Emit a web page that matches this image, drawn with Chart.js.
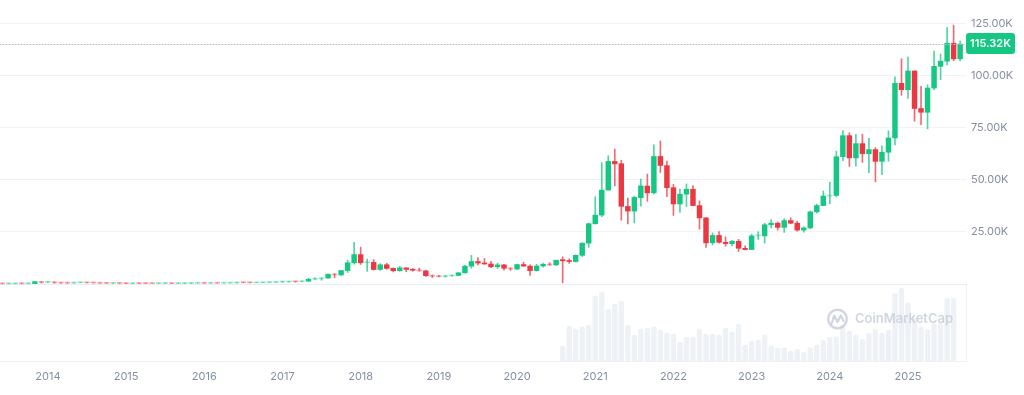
<!DOCTYPE html>
<html>
<head>
<meta charset="utf-8">
<script src="https://cdn.jsdelivr.net/npm/chart.js@4.4.1/dist/chart.umd.min.js"></script>
<style>
  html, body { margin: 0; padding: 0; background: #fff; }
</style>
</head>
<body>
<canvas id="chart" width="1024" height="395"></canvas>
<script>
// BTC monthly candles, Jun 2013 .. Sep 2025 (USD), one row per year
const open = [
  129, 97, 106, 135, 133, 204, 1129,
  754, 938, 573, 458, 448, 630, 640, 586, 478, 387, 338, 378,
  320, 217, 254, 244, 236, 230, 263, 285, 230, 236, 314, 377,
  430, 368, 437, 416, 448, 531, 673, 624, 573, 609, 698, 742,
  963, 970, 1190, 1071, 1348, 2286, 2480, 2875, 4703, 4338, 6468, 10233,
  14112, 10237, 10385, 7003, 9251, 7500, 6411, 7769, 7044, 6619, 6318, 4025,
  3746, 3460, 3853, 4105, 5350, 8573, 10797, 10078, 9630, 8299, 9193, 7571,
  7194, 9346, 8600, 6437, 8672, 9463, 9145, 11700, 11250, 10790, 13780, 19630,
  28990, 33110, 45160, 58930, 57830, 37290, 35035, 41460, 47100, 43820, 61320, 56910,
  46310, 38480, 43190, 45540, 37710, 31790, 19820, 23340, 20050, 19420, 20500, 17170,
  16550, 23140, 23150, 28480, 29270, 27220, 30480, 29230, 25930, 26970, 34670, 37720,
  42280, 42580, 61170, 71330, 60610, 67490, 62670, 64620, 58970, 63340, 70220, 96460,
  93430, 102410, 84370, 82550, 94210, 104640, 107140, 115760, 108240
];
const high = [
  130, 111, 135, 139, 210, 1156, 1156,
  1017, 1000, 700, 548, 630, 680, 650, 600, 490, 412, 458, 380,
  320, 280, 300, 256, 247, 265, 315, 285, 250, 330, 495, 466,
  432, 442, 440, 467, 542, 778, 705, 627, 614, 718, 755, 974,
  1191, 1200, 1280, 1349, 2763, 2999, 2916, 4736, 4975, 6470, 11517, 20089,
  17712, 11958, 11710, 9745, 9964, 7754, 8424, 7769, 7388, 7680, 6553, 4309,
  4109, 4210, 4296, 5642, 9008, 13796, 12681, 12273, 10898, 10021, 9505, 7743,
  9553, 10500, 9167, 9440, 10067, 10199, 11434, 13100, 12050, 14030, 19860, 29300,
  41950, 58330, 61680, 64860, 59520, 41330, 42230, 50480, 52850, 66930, 68790, 59040,
  47880, 45660, 48090, 47300, 39900, 31950, 24570, 25210, 22670, 20990, 21450, 18320,
  23960, 25130, 29160, 30950, 29820, 31390, 31810, 30180, 27480, 35150, 38420, 44700,
  48970, 63910, 73750, 72710, 71950, 71980, 69990, 65590, 66480, 73620, 99650, 108270,
  109110, 102500, 95040, 95760, 111970, 110600, 123230, 124460, 116800
];
const low = [
  88, 65, 102, 109, 100, 200, 455,
  739, 420, 440, 340, 420, 560, 570, 450, 375, 289, 320, 310,
  171, 212, 240, 218, 225, 220, 255, 199, 225, 236, 305, 354,
  355, 366, 400, 415, 438, 513, 606, 480, 596, 605, 684, 742,
  752, 920, 903, 1070, 1345, 2180, 1830, 2651, 2980, 4182, 5519, 9542,
  9402, 6048, 6685, 6526, 7090, 5826, 6111, 5880, 6121, 6170, 3652, 3156,
  3401, 3400, 3734, 4096, 5332, 7564, 9163, 9421, 7830, 7446, 6617, 6540,
  6915, 8470, 4106, 6202, 8117, 8976, 8977, 600, 9900, 10540, 13200, 17600,
  28720, 32380, 45120, 47160, 30680, 28890, 29360, 37390, 39790, 43320, 53570, 42000,
  32950, 34460, 37260, 37580, 26350, 17620, 18780, 19600, 18150, 18320, 15600, 16330,
  16520, 21440, 19630, 26970, 25880, 24800, 28930, 25410, 24900, 26560, 34120, 37630,
  38560, 41880, 59320, 56550, 56640, 58440, 53550, 49120, 52600, 58950, 66850, 90740,
  89260, 78260, 76630, 74590, 93380, 98240, 105290, 107350, 107300
];
const close = [
  97, 106, 135, 133, 204, 1129, 754,
  938, 573, 458, 448, 630, 640, 586, 478, 387, 338, 378, 320,
  217, 254, 244, 236, 230, 263, 285, 230, 236, 314, 377, 430,
  368, 437, 416, 448, 531, 673, 624, 573, 609, 698, 742, 963,
  970, 1190, 1071, 1348, 2286, 2480, 2875, 4703, 4338, 6468, 10233, 14156,
  10221, 10326, 6973, 9240, 7495, 6404, 7780, 7037, 6625, 6318, 4017, 3742,
  3457, 3854, 4105, 5351, 8574, 10817, 10085, 9630, 8293, 9199, 7569, 7194,
  9350, 8599, 6438, 8658, 9461, 9137, 11450, 11150, 10800, 13780, 19625, 29000,
  33110, 45140, 58920, 57750, 37330, 35040, 41630, 47170, 43790, 61320, 57000, 46310,
  38480, 43190, 45540, 37710, 31790, 19780, 23340, 20050, 19430, 20500, 17170, 16550,
  23140, 23150, 28480, 29270, 27220, 30480, 29230, 25930, 26970, 34670, 37720, 42270,
  42580, 61200, 71330, 60640, 67490, 62680, 64620, 58970, 63330, 70220, 96450, 93430,
  102410, 84370, 82550, 94210, 104640, 107140, 115760, 108240, 115320
];
// monthly volume (billions USD), Aug 2020 .. Aug 2025
const volumeFrom = 86;
const volume = [
  525, 1225, 1120, 1190, 1260,
  2275, 2415, 1820, 1995, 2100, 1260, 910, 1120, 1155, 1190, 1085, 980,
  945, 665, 840, 840, 1120, 945, 945, 910, 1155, 1015, 1295, 560,
  700, 735, 910, 525, 445, 465, 350, 410, 305, 465, 560, 725,
  840, 850, 1260, 1050, 910, 760, 980, 1120, 980, 1085, 2360, 2545,
  2030, 1505, 1200, 1110, 1310, 1310, 2195, 2195
];
const yearTicks = [7, 19, 31, 43, 55, 67, 79, 91, 103, 115, 127, 139];
const yearLabels = ['2014', '2015', '2016', '2017', '2018', '2019', '2020', '2021', '2022', '2023', '2024', '2025'];
const priceTicks = [0, 25000, 50000, 75000, 100000, 125000];

const GREEN = '#16C784';
const RED = '#EA3943';
const lastPrice = close[close.length - 1];

const bodies = open.map((o, i) => ({ x: i, y: [o, close[i]] }));
const wicks = open.map((o, i) => ({ x: i, y: [low[i], high[i]] }));
// bodies thinner than a pixel look washed out in the original
const bodyColors = open.map((o, i) => {
  const up = close[i] >= o;
  if (Math.abs(close[i] - o) < 400) return up ? 'rgba(22,199,132,0.45)' : 'rgba(234,57,67,0.45)';
  return up ? GREEN : RED;
});
const wickColors = open.map((o, i) => close[i] >= o ? 'rgba(22,199,132,0.75)' : 'rgba(234,57,67,0.75)');
const vols = volume.map((v, j) => ({ x: volumeFrom + j, y: v }));

const font = { family: 'Inter', size: 11 };

const overlay = {
  id: 'overlay',
  afterDatasetsDraw(chart) {
    const { ctx, chartArea: a, scales: { y } } = chart;
    ctx.save();
    // watermark
    const wm = 'rgba(200,207,220,0.85)';
    ctx.strokeStyle = wm;
    ctx.lineWidth = 2.4;
    ctx.beginPath();
    ctx.arc(837.5, 319, 9.3, 0, Math.PI * 2);
    ctx.stroke();
    ctx.lineWidth = 2.2;
    ctx.lineJoin = 'round';
    ctx.lineCap = 'round';
    ctx.beginPath();
    ctx.moveTo(831.5, 324);
    ctx.lineTo(834.2, 315.5);
    ctx.lineTo(837.5, 322);
    ctx.lineTo(840.8, 315.5);
    ctx.lineTo(843.5, 321);
    ctx.stroke();
    ctx.fillStyle = wm;
    ctx.font = '600 15px Inter';
    const w = ctx.measureText('CoinMarketCap').width;
    ctx.font = '600 ' + (15 * 98 / w).toFixed(2) + 'px Inter';
    ctx.textBaseline = 'middle';
    ctx.fillText('CoinMarketCap', 855, 319.5);

    // right border of volume pane
    ctx.strokeStyle = '#EFF2F5';
    ctx.lineWidth = 1;
    ctx.beginPath();
    ctx.moveTo(a.right + 0.5, y.getPixelForValue(0));
    ctx.lineTo(a.right + 0.5, a.bottom);
    ctx.stroke();

    // current price line
    const py = Math.round(y.getPixelForValue(lastPrice)) + 0.5;
    ctx.strokeStyle = '#B4BAC6';
    ctx.setLineDash([1, 2]);
    ctx.beginPath();
    ctx.moveTo(a.left, py);
    ctx.lineTo(a.right, py);
    ctx.stroke();
    ctx.setLineDash([]);

    // price badge
    const bx = a.right, bw = 49, bh = 21, by = py - 11.5;
    ctx.fillStyle = GREEN;
    ctx.beginPath();
    ctx.roundRect(bx, by, bw, bh, 3);
    ctx.fill();
    ctx.fillStyle = '#fff';
    ctx.font = '600 11px Inter';
    ctx.textAlign = 'center';
    ctx.textBaseline = 'middle';
    ctx.fillText((lastPrice / 1000).toFixed(2) + 'K', bx + bw / 2, by + bh / 2 + 0.5);
    ctx.restore();
  }
};

new Chart(document.getElementById('chart'), {
  type: 'bar',
  data: {
    datasets: [
      { data: bodies, backgroundColor: bodyColors, barThickness: 4.8, minBarLength: 1, grouped: false, yAxisID: 'y' },
      { data: wicks, backgroundColor: wickColors, barThickness: 1, grouped: false, yAxisID: 'y' },
      { data: vols, backgroundColor: '#EEF1F5', barThickness: 4.7, borderRadius: 2, grouped: false, yAxisID: 'yVol' }
    ]
  },
  options: {
    responsive: false,
    animation: false,
    layout: { padding: 0 },
    plugins: { legend: { display: false }, tooltip: { enabled: false } },
    scales: {
      x: {
        type: 'linear', min: -0.35, max: 147.9, offset: false,
        grid: { display: false, drawTicks: false },
        border: { display: true, color: '#EFF2F5' },
        afterBuildTicks: s => { s.ticks = yearTicks.map(v => ({ value: v })); },
        afterFit: s => { s.height = 34; s.paddingLeft = 0; s.paddingRight = 0; },
        ticks: {
          autoSkip: false, maxRotation: 0, padding: 9, color: '#858FA3', font,
          callback: (v, i) => yearLabels[i]
        }
      },
      y: {
        position: 'right', min: -37019, max: 136538,
        afterBuildTicks: s => { s.ticks = priceTicks.map(v => ({ value: v })); },
        afterFit: s => { s.width = 58; s.paddingTop = 0; s.paddingBottom = 0; },
        grid: {
          drawTicks: false,
          color: ctx => ctx.tick && ctx.tick.value === 0 ? '#E9ECF0' : '#F1F3F6'
        },
        border: { display: false },
        ticks: {
          padding: 5, color: '#858FA3', font,
          callback: v => v === 0 ? '' : (v / 1000).toFixed(2) + 'K'
        }
      },
      yVol: { display: false, min: 0, max: 12635 }
    }
  },
  plugins: [overlay]
});
</script>
</body>
</html>
